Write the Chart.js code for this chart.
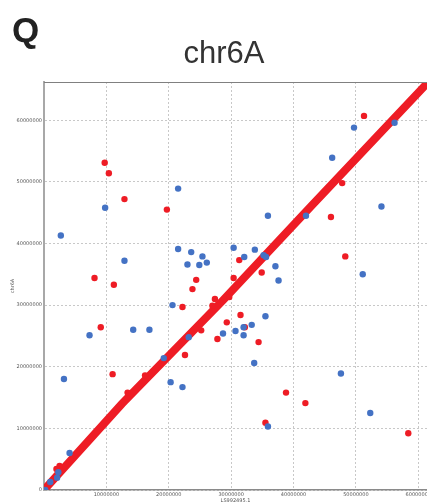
<!DOCTYPE html>
<html>
<head>
<meta charset="utf-8">
<script src="https://cdn.jsdelivr.net/npm/chart.js@4"></script>
<style>
  html, body { margin: 0; padding: 0; background: #fff; overflow: hidden; }
  #wrap { position: relative; width: 427px; height: 503px; }
  #q { position: absolute; left: 12px; top: 12px; font: bold 35px/1 "Liberation Sans", Arial, sans-serif; color: #222; }
  #ttl { position: absolute; left: 224px; top: 37px; transform: translateX(-50%); font: 31px/1 "Liberation Sans", Arial, sans-serif; color: #333; white-space: nowrap; }
  canvas { position: absolute; left: 0; top: 0; }
</style>
</head>
<body>
<div id="wrap">
  <canvas id="chart" width="427" height="503"></canvas>
  <div id="q">Q</div>
  <div id="ttl">chr6A</div>
</div>
<script>
// positions in Mb, LS992495.1 (x) vs chr6A (y)
var redX = [9.73,10.4,12.9,19.7,51.3,47.8,46.0,48.3,31.3,8.1,11.2,24.4,23.8,30.4,29.7,27.4,27.0,22.2,9.1,25.2,29.3,27.8,31.5,22.6,11.0,16.2,13.4,34.9,32.2,34.4,38.8,41.9,35.5,58.4,2.5,2.0];
var redY = [53.1,51.4,47.2,45.5,60.7,49.8,44.3,37.9,37.3,34.4,33.3,34.1,32.6,34.4,31.3,31.0,29.9,29.7,26.4,25.9,27.2,24.5,28.4,21.9,18.8,18.6,15.8,35.3,26.4,24.0,15.8,14.1,10.9,9.2,3.9,3.4];

var blueX = [2.7,9.8,21.5,21.5,23.6,25.4,30.4,12.9,49.7,56.2,46.2,54.1,35.9,42.0,32.1,33.8,35.2,35.6,23.0,24.9,26.1,20.6,7.3,14.3,16.9,28.7,30.7,23.2,19.2,3.2,20.3,22.2,51.1,37.1,37.6,35.5,32.0,33.3,32.0,33.7,47.6,52.3,35.9,4.1,2.3,2.1,1.0,0.2];
var blueY = [41.3,45.8,48.9,39.1,38.6,37.9,39.3,37.2,58.8,59.6,53.9,46.0,44.5,44.5,37.8,39.0,38.1,37.8,36.6,36.5,36.9,30.0,25.1,26.0,26.0,25.4,25.8,24.8,21.4,18.0,17.5,16.7,35.0,36.3,34.0,28.2,26.4,26.8,25.1,20.6,18.9,12.5,10.3,6.0,2.9,2.0,1.3,0.0];

// main collinear block
var lineX = [0,12.5,28.7,42.7,62];
var lineY = [0,14.0,30.8,45.9,66.6];

// tick positions (bp)
var xTicks = [0,10000000,20000000,30000000,40000000,50000000,60000000];
var yTicks = [0,10000000,20000000,30000000,40000000,50000000,60000000];

var MB = 1000000;
function pts(xs, ys) {
  return xs.map(function (x, i) { return { x: x * MB, y: ys[i] * MB }; });
}

var RED = "#ee1c25";
var BLUE = "#4472c4";

const frameTop = {
  id: "frameTop",
  afterDraw(chart) {
    const a = chart.chartArea, ctx = chart.ctx;
    ctx.save();
    ctx.strokeStyle = "#808080";
    ctx.lineWidth = 1;
    ctx.beginPath();
    ctx.moveTo(a.left, a.top + 0.5);
    ctx.lineTo(a.right, a.top + 0.5);
    ctx.stroke();
    ctx.restore();
  }
};

const tickFont = { family: "DejaVu Sans", size: 5 };

function setTicks(list) {
  return function (scale) {
    scale.ticks = list.map(function (v) { return { value: v }; });
  };
}

new Chart("chart", {
  type: "scatter",
  data: {
    datasets: [
      {
        type: "line",
        data: pts(lineX, lineY),
        borderColor: RED,
        borderWidth: 8,
        pointRadius: 0,
        fill: false,
        tension: 0,
        order: 3
      },
      {
        data: pts(redX, redY),
        backgroundColor: RED,
        borderWidth: 0,
        pointRadius: 3.2,
        order: 2
      },
      {
        data: pts(blueX, blueY),
        backgroundColor: BLUE,
        borderWidth: 0,
        pointRadius: 3.2,
        order: 1
      }
    ]
  },
  options: {
    responsive: false,
    animation: false,
    layout: { autoPadding: false, padding: { top: 82, left: 0, right: 0, bottom: 0 } },
    plugins: { legend: { display: false }, tooltip: { enabled: false } },
    scales: {
      x: {
        type: "linear",
        min: 0,
        max: 61.4 * MB,
        afterBuildTicks: setTicks(xTicks),
        afterFit: function (s) { s.height = 13; s.paddingLeft = 0; s.paddingRight = 0; },
        grid: { color: "#c8c8c8", lineWidth: 1, drawTicks: false },
        border: { color: "#8a8a8a", width: 1.5, dash: [2, 2] },
        ticks: {
          font: tickFont,
          color: "#555",
          padding: 2,
          maxRotation: 0,
          autoSkip: false,
          callback: function (v) { return v === 0 ? "" : String(v); }
        },
        title: {
          display: true,
          text: "LS992495.1",
          font: { family: "DejaVu Sans", size: 5, lineHeight: 1 },
          color: "#555",
          padding: { top: 0, bottom: 0 }
        }
      },
      y: {
        type: "linear",
        min: 0,
        max: 66.2 * MB,
        afterBuildTicks: setTicks(yTicks),
        afterFit: function (s) { s.width = 44; s.paddingTop = 0; s.paddingBottom = 0; },
        grid: { color: "#c8c8c8", lineWidth: 1, drawTicks: false },
        border: { color: "#a8a8a8", width: 2, dash: [2, 2] },
        ticks: {
          font: tickFont,
          color: "#555",
          padding: 2,
          autoSkip: false,
          callback: function (v) { return String(v); }
        },
        title: {
          display: true,
          text: "chr6A",
          font: { family: "DejaVu Sans", size: 5, lineHeight: 1 },
          color: "#555",
          padding: { top: 10, bottom: 0 }
        }
      }
    }
  },
  plugins: [frameTop]
});
</script>
</body>
</html>
